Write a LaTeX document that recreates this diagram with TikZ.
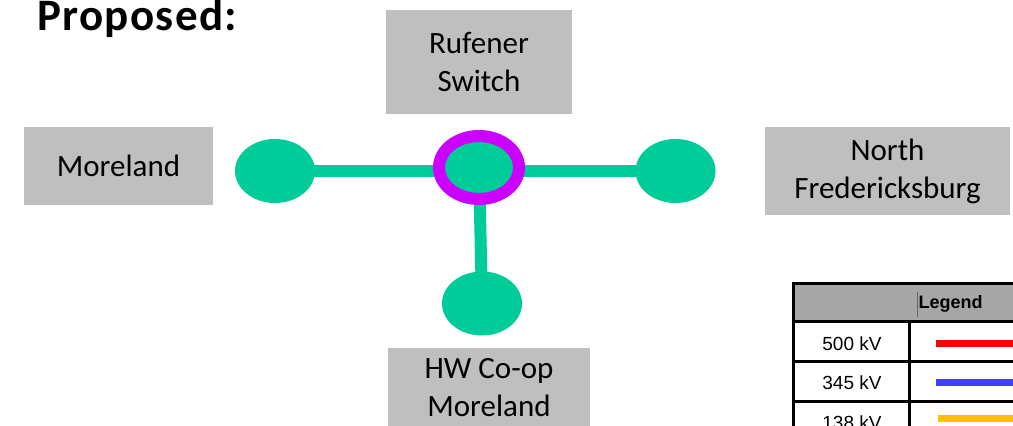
\documentclass[tikz,border=0pt]{standalone}
\usepackage{fontspec}
\setmainfont{Carlito}
\newfontfamily\arialf{Liberation Sans}
\usetikzlibrary{shapes.geometric,backgrounds}
\definecolor{sgreen}{HTML}{00CC99}
\definecolor{spurple}{HTML}{CC00FF}
\definecolor{boxgray}{HTML}{BFBFBF}
\definecolor{hdrgray}{HTML}{A6A6A6}
\definecolor{kvred}{HTML}{FF0000}
\definecolor{kvblue}{HTML}{3F3FFF}
\definecolor{kvorange}{HTML}{FFC000}
\tikzset{
  box/.style={fill=boxgray, align=center, inner sep=0pt, font=\fontsize{31}{38}\selectfont},
  sub/.style={ellipse, fill=sgreen, minimum width=80pt, minimum height=64pt, inner sep=0pt},
  feeder/.style={draw=sgreen, line width=12pt},
  tab/.style={draw=black, line width=3pt},
  lgtext/.style={inner sep=0pt, anchor=base, font=\arialf\fontsize{19}{22}\selectfont},
  kvline/.style={line width=7pt}
}
\begin{document}
\begin{tikzpicture}[x=1pt,y=-1pt]
\useasboundingbox (0,0) rectangle (1013,426);

\node[anchor=base west, inner sep=0pt, font=\bfseries\fontsize{45}{52}\selectfont\addfontfeatures{LetterSpace=3}] (title) at (37,30) {Proposed:};

\node[box, minimum width=186pt, minimum height=104pt] (ruf) at (479,62) {Rufener\\Switch};
\node[box, minimum width=189pt, minimum height=78pt] (mor) at (118.5,166) {Moreland};
\node[box, minimum width=245pt, minimum height=88pt] (nf) at (887.5,171) {North\\Fredericksburg};
\node[box, minimum width=202pt, minimum height=80pt] (hw) at (489,388) {HW Co-op\\Moreland};

\node[sub] (sm) at (275,171) {};
\node[sub] (sr) at (675.5,171) {};
\node[sub] (sb) at (482,303.5) {};
\node[sub, draw=spurple, line width=12pt, minimum width=80pt, minimum height=63pt] (sc) at (479,167.5) {};

\begin{scope}[on background layer]
\draw[feeder] (sm.center) -- (sr.center);
\draw[feeder] (sc.center) -- (sb.center);
\end{scope}

% legend table
\fill[hdrgray] (793,283) rectangle (1020,321.5);
\draw[tab] (793,283) -- (1020,283);
\draw[tab] (793,281.5) -- (793,430);
\draw[tab] (793,321.5) -- (1020,321.5);
\draw[tab] (793,361.5) -- (1020,361.5);
\draw[tab] (793,401) -- (1020,401);
\draw[tab] (909.5,321.5) -- (909.5,430);
\draw[black!60, line width=1pt] (917.5,292) -- (917.5,317);

\node[lgtext, font=\arialf\bfseries\fontsize{18}{22}\selectfont] (lgd) at (950.5,308.5) {Legend};
\node[lgtext] (k500) at (852,350) {500 kV};
\node[lgtext] (k345) at (852,389.5) {345 kV};
\node[lgtext] (k138) at (852,429) {138 kV};

\coordinate (r1) at (936,343);
\coordinate (r2) at (1020,343);
\coordinate (b1) at (936,382.5);
\coordinate (b2) at (1020,382.5);
\coordinate (o1) at (938,418.5);
\coordinate (o2) at (1020,418.5);
\draw[kvline, kvred] (r1) -- (r2);
\draw[kvline, kvblue] (b1) -- (b2);
\draw[kvline, kvorange] (o1) -- (o2);
\end{tikzpicture}
\end{document}
